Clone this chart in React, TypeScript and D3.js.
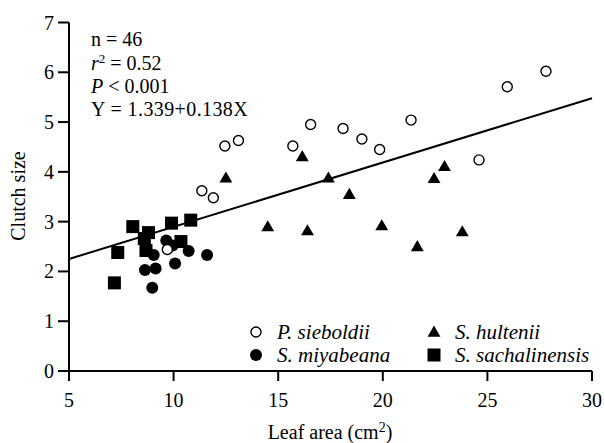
import React from 'react';
import * as d3 from 'd3';

// values (leaf area in cm2, clutch size)
const sieboldii: [number, number][] = [
  [11.35, 3.62], [11.9, 3.48], [12.45, 4.52], [13.1, 4.63], [15.7, 4.52],
  [16.55, 4.95], [18.1, 4.87], [19.0, 4.66], [19.85, 4.45], [21.35, 5.04],
  [24.6, 4.24], [25.95, 5.71], [27.8, 6.02], [9.7, 2.44],
];
const hultenii: [number, number][] = [
  [12.5, 3.86], [16.15, 4.29], [17.4, 3.86], [18.4, 3.53], [14.5, 2.88],
  [16.4, 2.8], [19.95, 2.9], [21.65, 2.48], [22.45, 3.85], [22.95, 4.09], [23.8, 2.78],
];
const miyabeana: [number, number][] = [
  [9.65, 2.62], [9.95, 2.52], [10.72, 2.41], [11.6, 2.33], [10.07, 2.16],
  [8.63, 2.03], [9.14, 2.06], [8.98, 1.67], [9.05, 2.33],
];
const sachalinensis: [number, number][] = [
  [8.05, 2.9], [8.8, 2.78], [8.6, 2.66], [9.9, 2.97], [10.82, 3.03],
  [7.33, 2.38], [8.68, 2.42], [10.35, 2.6], [7.17, 1.77],
];
const fitLine: [number, number][] = [[5, 2.25], [30, 5.48]];

const xTicks = [5, 10, 15, 20, 25, 30];
const yTicks = [0, 1, 2, 3, 4, 5, 6, 7];

const font = "'Liberation Serif', 'Times New Roman', serif";

export default function App() {
  const x = d3.scaleLinear().domain([5, 30]).range([69, 592]);
  const y = d3.scaleLinear().domain([0, 7]).range([371, 22.5]);
  const line = d3.line<[number, number]>().x((d) => x(d[0])).y((d) => y(d[1]));
  const tri = d3.symbol().type(d3.symbolTriangle).size(72)();

  const circle = (d: [number, number], i: number, open: boolean) => (
    <circle
      key={(open ? 'o' : 'f') + i}
      cx={x(d[0])}
      cy={y(d[1])}
      r={open ? 5 : 6}
      fill={open ? '#fff' : '#000'}
      stroke="#000"
      strokeWidth={open ? 1.4 : 0}
    />
  );
  const square = (cx: number, cy: number, k: string) => (
    <rect key={k} x={cx - 6.5} y={cy - 6.5} width={13} height={13} fill="#000" />
  );

  return (
    <svg width={605} height={443} style={{ position: 'absolute', left: 0, top: 0, background: '#fff' }}
      fontFamily={font} fontSize={21}>
      {/* axes */}
      <line x1={69} x2={69} y1={y(7)} y2={y(0)} stroke="#000" strokeWidth={2} />
      <line x1={69} x2={592} y1={y(0)} y2={y(0)} stroke="#000" strokeWidth={2} />
      {yTicks.map((t) => (
        <g key={'y' + t}>
          <line x1={58} x2={69} y1={y(t)} y2={y(t)} stroke="#000" strokeWidth={2} />
          <text x={54} y={y(t) + 7} textAnchor="end" fontSize={20}>{t}</text>
        </g>
      ))}
      {xTicks.map((t) => (
        <g key={'x' + t}>
          <line x1={x(t)} x2={x(t)} y1={y(0)} y2={y(0) + 10} stroke="#000" strokeWidth={2} />
          <text x={x(t)} y={407} textAnchor="middle" fontSize={20}>{t}</text>
        </g>
      ))}
      <text x={330} y={439} textAnchor="middle" fontSize={20}>
        Leaf area (cm<tspan fontSize={14} dy={-7}>2</tspan><tspan dy={7}>)</tspan>
      </text>
      <text transform="translate(25,196) rotate(-90)" textAnchor="middle" fontSize={20}>Clutch size</text>

      {/* stats */}
      <g fontSize={20}>
        <text x={91} y={46}>n = 46</text>
        <text x={91} y={69.5}>
          <tspan fontStyle="italic">r</tspan><tspan fontSize={13} dy={-7}>2</tspan><tspan dy={7}> = 0.52</tspan>
        </text>
        <text x={91} y={92.5}><tspan fontStyle="italic">P</tspan> &lt; 0.001</text>
        <text x={91} y={115.5} letterSpacing={0.4}>Y = 1.339+0.138X</text>
      </g>

      {/* regression line */}
      <path d={line(fitLine) || ''} fill="none" stroke="#000" strokeWidth={2} />

      {/* points */}
      {sachalinensis.map((d, i) => square(x(d[0]), y(d[1]), 's' + i))}
      {miyabeana.map((d, i) => circle(d, i, false))}
      {sieboldii.map((d, i) => circle(d, i, true))}
      {hultenii.map((d, i) => (
        <path key={'t' + i} d={tri || ''} transform={`translate(${x(d[0])},${y(d[1])})`} fill="#000" />
      ))}

      {/* legend */}
      <circle cx={256} cy={332} r={5} fill="#fff" stroke="#000" strokeWidth={1.4} />
      <text x={277} y={339} fontStyle="italic">P. sieboldii</text>
      <circle cx={256} cy={355} r={6} fill="#000" />
      <text x={277} y={362} fontStyle="italic">S. miyabeana</text>
      <path d={tri || ''} transform="translate(434,333)" fill="#000" />
      <text x={455} y={339} fontStyle="italic">S. hultenii</text>
      {square(434, 355, 'legsq')}
      <text x={455} y={362} fontStyle="italic">S. sachalinensis</text>
    </svg>
  );
}
